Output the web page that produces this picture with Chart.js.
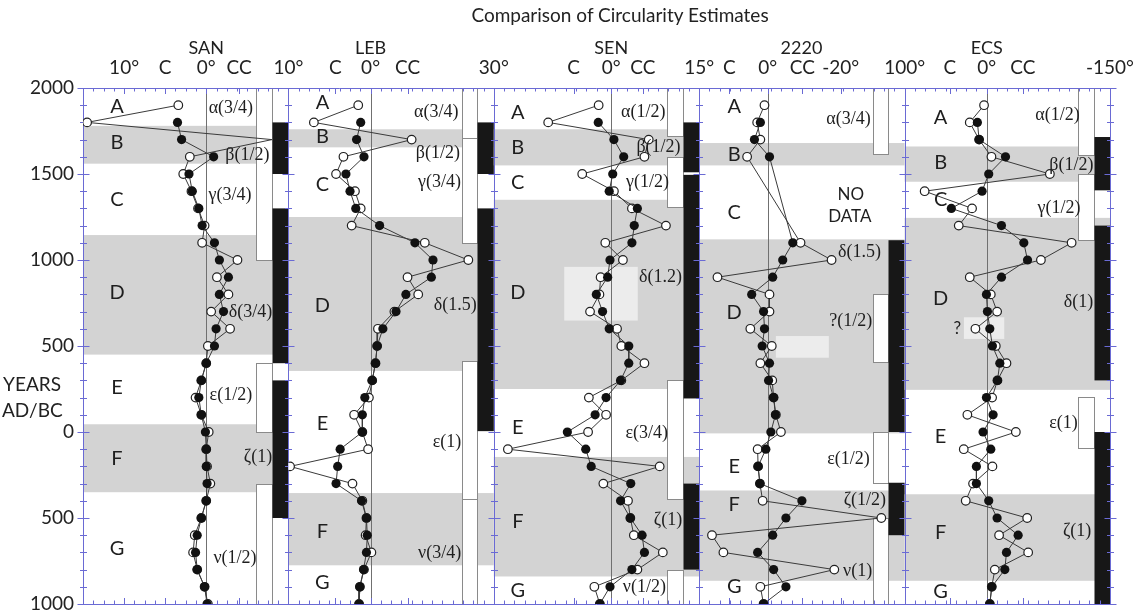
<!DOCTYPE html>
<html>
<head>
<meta charset="utf-8">
<script src="https://cdn.jsdelivr.net/npm/chart.js@4.4.1/dist/chart.umd.min.js"></script>
<style>
  html, body { margin: 0; padding: 0; background: #fff; overflow: hidden; }
  #wrap { position: relative; width: 1136px; height: 610px; }
  #chart { position: absolute; left: 0; top: 0; }
  .txt { position: absolute; font-family: Lato, "Liberation Sans", sans-serif; color: #222; white-space: nowrap; }
</style>
</head>
<body>
<div id="wrap">
  <canvas id="chart" width="1136" height="610" style="width:1136px;height:610px"></canvas>
  <div class="txt" style="left:620px;top:3px;transform:translateX(-50%);font-size:19px;">Comparison of Circularity Estimates</div>
  <div class="txt" style="left:2px;top:371px;width:60px;text-align:center;font-size:19px;line-height:26px;">YEARS<br>AD/BC</div>
</div>
<script>
// years of the samples (AD positive, BC negative)
const years = [1900, 1800, 1700, 1600, 1500, 1400, 1300, 1200, 1100, 1000, 900, 800, 700, 600, 500,
  400, 300, 200, 100, 0, -100, -200, -300, -400, -500, -600, -700, -800, -900, -1000];

// circularity estimates, degrees (positive = clockwise)
const sanOpen = [3.4, 14.5, -8.0, 2.0, 2.8, 1.8, 1.0, 0.2, 0.5, -3.8, -1.3, -2.7, -0.6, -2.9, -0.2,
  0.0, 0.6, 1.3, 0.6, -0.3, 0.0, -0.1, -0.5, 0.0, 0.6, 1.4, 1.6, 1.1, 0.2, -0.2];
const sanFilled = [null, 3.5, 3.0, -0.9, 2.1, 1.7, 0.9, 0.5, -1.0, -1.6, -2.7, -1.6, -2.1, -1.2, -1.0,
  0.0, 0.6, 0.9, 0.6, 0.1, 0.0, 0.0, -0.1, 0.0, 0.6, 1.1, 1.3, 1.1, 0.2, -0.1];
const lebOpen = [1.5, 6.9, -5.0, 3.3, 4.2, 1.9, 1.2, 2.3, -6.6, -11.9, -4.5, -5.8, -2.9, -0.9, -0.8,
  -0.6, -0.2, 0.2, 2.0, 1.0, 0.3, 9.8, 2.2, 1.0, 0.5, 0.6, -0.1, 0.8, 1.3, 1.4];
const lebFilled = [null, 1.2, 1.7, 0.8, 3.0, 2.5, 1.8, -1.1, -5.4, -7.6, -7.4, -4.3, -3.1, -1.5, -0.8,
  -0.6, -0.2, 0.7, 1.0, 1.0, 3.7, 4.0, 4.2, 1.1, 0.5, 0.4, 0.5, 0.85, 1.3, 1.4];
const senOpen = [3.2, 16.1, -9.6, -8.5, 7.4, -0.7, -5.3, -14.0, 1.5, -3.0, 2.7, 3.0, 5.4, -1.5, -2.6,
  -8.5, -2.6, 5.7, 1.3, 5.9, 26.4, -12.4, 2.0, -4.3, -4.9, -5.8, -13.2, -6.7, 4.3, 2.9];
const senFilled = [null, 3.3, -0.7, -3.2, -0.4, 0.5, -6.7, -5.9, -5.3, 0.3, 0.9, 3.8, 2.2, 0.5, -4.5,
  -4.5, -2.4, 1.3, 4.1, 11.2, 6.5, 5.1, -5.0, -2.4, -4.9, -7.9, -8.5, -5.3, 0.3, 2.9];
const t2220Open = [0.7, 2.3, 1.6, 4.5, null, null, null, null, -7.2, -14.0, 11.0, -0.4, -0.4, 3.8, -0.9,
  1.6, -1.0, -1.3, -1.8, -2.9, 2.2, 2.1, 1.7, 1.1, -24.9, 12.2, 9.7, -14.6, 1.6, 0.9];
const t2220Filled = [null, 1.6, 2.9, -0.4, null, null, null, null, -5.5, -3.3, -1.1, 3.5, 0.9, 0.7, 1.2,
  -0.4, -0.2, -1.3, -1.7, -0.7, 0.4, 2.1, 1.7, -7.5, -4.0, -1.1, 2.2, -1.3, -4.0, 0.9];
const ecsOpen = [3.3, 20.7, 9.3, -5.7, -76.8, 75.6, 17.9, 34.1, -103.3, -65.9, 20.7, -4.9, -12.6, 13.8, -11.0,
  -24.0, -13.0, -6.5, 23.6, -35.4, 28.0, -6.9, 16.7, 25.6, -49.2, -15.0, -50.4, -9.8, -6.1, -3.7];
const ecsFilled = [null, 11.4, 9.3, -22.8, -2.4, 5.7, 43.1, -17.9, -45.1, -49.6, -17.9, 0.4, -0.8, -3.7, -6.9,
  -15.9, -13.0, 0.4, -7.7, 4.5, -4.9, 12.6, 12.6, -2.4, -12.6, -38.2, -24.0, -22.0, -6.1, -3.7];

// samples that run off the scale (line only, no marker)
const sanOffScale = [1700];

// top axis ticks
const sanTickVals = [10, 5, 0, -4];
const sanTickText = ['10°', 'C', '0°', 'CC'];
const lebTickVals = [10, 4.3, 0, -4.5];
const lebTickText = ['10°', 'C', '0°', 'CC'];
const senTickVals = [30, 9.6, 0, -8.1];
const senTickText = ['30°', 'C', '0°', 'CC'];
const t2220TickVals = [15, 8.4, 0, -7.6, -16];
const t2220TickText = ['15°', 'C', '0°', 'CC', '-20°'];
const ecsTickVals = [100, 45, 0, -44, -150];
const ecsTickText = ['100°', 'C', '0°', 'CC', '-150°'];

// grey epoch bands [from year, to year]
const sanBands = [[1780, 1560], [1145, 450], [45, -350]];
const lebBands = [[1760, 1655], [1250, 355], [-355, -775]];
const senBands = [[1760, 1550], [1350, 250], [-145, -840]];
const t2220Bands = [[1680, 1550], [1120, -8], [-340, -865]];
const ecsBands = [[1660, 1455], [1245, 245], [-362, -865]];

// pale boxes [from year, to year, from deg, to deg]
const senShade = [[960, 648, 12.0, -6.8]];
const t2220Shade = [[558, 432, -1.8, -13.4]];
const ecsShade = [[667, 541, 27.8, -21.3]];

// open and black interval bars [from year, to year]
const sanWhite = [[2000, 1000], [400, 0], [-300, -1000]];
const sanBlack = [[1800, 1500], [1300, 400], [300, -500]];
const lebWhite = [[2000, 1710], [1710, 1100], [410, -390], [-390, -1000]];
const lebBlack = [[1800, 1500], [1300, 5]];
const senWhite = [[2000, 1720], [1600, 1310], [305, -390], [-800, -1000]];
const senBlack = [[1800, 1510], [1495, 195], [-300, -800]];
const t2220White = [[2000, 1615], [805, 405], [0, -295], [-500, -1000]];
const t2220Black = [[1115, 0], [-295, -600]];
const ecsWhite = [[2000, 1610], [1500, 1115], [205, -95]];
const ecsBlack = [[1715, 1405], [1200, 300], [0, -1000]];

// epoch letters and their years
const epochLetters = ['A', 'B', 'C', 'D', 'E', 'F', 'G'];
const sanLetterYears = [1890, 1680, 1349, 808, 256, -157, -680];
const lebLetterYears = [1913, 1715, 1436, 733, 52, -576, -878];
const senLetterYears = [1860, 1651, 1448, 808, 23, -523, -919];
const t2220LetterYears = [1895, 1616, 1273, 692, -203, -424, -901];
const ecsLetterYears = [1826, 1564, 1349, 773, -29, -587, -930];

// greek annotations: text, year, degree position
const sanGreek = ['α(3/4)', 'β(1/2)', 'γ(3/4)', 'δ(3/4)', 'ε(1/2)', 'ζ(1)', 'ν(1/2)'];
const sanGreekYears = [1884, 1610, 1378, 698, 215, -145, -733];
const sanGreekX = [-3.0, -5.0, -2.9, -5.4, -3.0, -6.3, -3.5];
const lebGreek = ['α(3/4)', 'β(1/2)', 'γ(3/4)', 'δ(1.5)', 'ε(1)', 'ν(3/4)'];
const lebGreekYears = [1860, 1622, 1453, 738, -58, -703];
const lebGreekX = [-8.0, -8.2, -8.4, -10.3, -9.3, -8.4];
const senGreek = ['α(1/2)', 'β(1/2)', 'γ(1/2)', 'δ(1.2)', 'ε(3/4)', 'ζ(1)', 'ν(1/2)'];
const senGreekYears = [1860, 1657, 1453, 901, -6, -512, -901];
const senGreekX = [-8.2, -12.1, -9.3, -12.6, -9.1, -14.5, -8.5];
const t2220Greek = ['α(3/4)', 'δ(1.5)', '?(1/2)', 'ε(1/2)', 'ζ(1/2)', 'ν(1)'];
const t2220GreekYears = [1820, 1047, 641, -159, -395, -812];
const t2220GreekX = [-17.7, -20.1, -18.2, -17.7, -21.3, -19.7];
const ecsGreek = ['α(1/2)', 'β(1/2)', 'γ(1/2)', 'δ(1)', 'ε(1)', 'ζ(1)'];
const ecsGreekYears = [1843, 1552, 1302, 756, 52, -576];
const ecsGreekX = [-86, -103, -88, -111.6, -93.3, -110];

// plain notes
const t2220Notes = ['NO', 'DATA'];
const t2220NoteYears = [1378, 1250];
const t2220NoteX = [-18.2, -18.0];
const ecsNotes = ['?'];
const ecsNoteYears = [599];
const ecsNoteX = [36];

const panels = [
  { key: 'SAN', axis: 'xSAN', min: -10, max: 15, headerX: 0, letterDx: 34,
    tickVals: sanTickVals, tickText: sanTickText, open: sanOpen, filled: sanFilled, offScale: sanOffScale,
    bands: sanBands, shade: [], white: sanWhite, black: sanBlack, letterYears: sanLetterYears,
    greek: sanGreek, greekYears: sanGreekYears, greekX: sanGreekX, notes: [], noteYears: [], noteX: [] },
  { key: 'LEB', axis: 'xLEB', min: -15, max: 10, headerX: 0, letterDx: 34,
    tickVals: lebTickVals, tickText: lebTickText, open: lebOpen, filled: lebFilled, offScale: [],
    bands: lebBands, shade: [], white: lebWhite, black: lebBlack, letterYears: lebLetterYears,
    greek: lebGreek, greekYears: lebGreekYears, greekX: lebGreekX, notes: [], noteYears: [], noteX: [] },
  { key: 'SEN', axis: 'xSEN', min: -22.5, max: 30, headerX: 0, letterDx: 24,
    tickVals: senTickVals, tickText: senTickText, open: senOpen, filled: senFilled, offScale: [],
    bands: senBands, shade: senShade, white: senWhite, black: senBlack, letterYears: senLetterYears,
    greek: senGreek, greekYears: senGreekYears, greekX: senGreekX, notes: [], noteYears: [], noteX: [] },
  { key: '2220', axis: 'x2220', min: -30, max: 15, headerX: -7.4, letterDx: 35,
    tickVals: t2220TickVals, tickText: t2220TickText, open: t2220Open, filled: t2220Filled, offScale: [],
    bands: t2220Bands, shade: t2220Shade, white: t2220White, black: t2220Black, letterYears: t2220LetterYears,
    greek: t2220Greek, greekYears: t2220GreekYears, greekX: t2220GreekX,
    notes: t2220Notes, noteYears: t2220NoteYears, noteX: t2220NoteX },
  { key: 'ECS', axis: 'xECS', min: -150, max: 100, headerX: 0, letterDx: 36,
    tickVals: ecsTickVals, tickText: ecsTickText, open: ecsOpen, filled: ecsFilled, offScale: [],
    bands: ecsBands, shade: ecsShade, white: ecsWhite, black: ecsBlack, letterYears: ecsLetterYears,
    greek: ecsGreek, greekYears: ecsGreekYears, greekX: ecsGreekX,
    notes: ecsNotes, noteYears: ecsNoteYears, noteX: ecsNoteX },
];

const axisBlue = '#6a6ad4';
const sansFont = 'Lato, "Liberation Sans", sans-serif';

function toPoints(vals) {
  return years.map((yr, i) => ({ x: vals[i], y: yr })).filter((pt) => pt.x !== null);
}

function strokeLine(ctx, x1, y1, x2, y2) {
  ctx.beginPath();
  ctx.moveTo(x1, y1);
  ctx.lineTo(x2, y2);
  ctx.stroke();
}

const crisp = (v) => Math.round(v) + 0.5;

const figurePlugin = {
  id: 'figure',
  beforeDatasetsDraw(chart) {
    const { ctx, chartArea: area, scales } = chart;
    const yS = scales.y;
    const yPx = (v) => yS.getPixelForValue(v);
    ctx.save();
    ctx.lineWidth = 1;

    panels.forEach((p) => {
      const xs = scales[p.axis];
      const left = xs.left, right = xs.right;

      ctx.fillStyle = '#d3d3d3';
      p.bands.forEach(([from, to]) => ctx.fillRect(left, yPx(from), right - left, yPx(to) - yPx(from)));

      ctx.fillStyle = '#ececec';
      p.shade.forEach(([from, to, a, b]) => {
        const xa = xs.getPixelForValue(a), xb = xs.getPixelForValue(b);
        ctx.fillRect(xa, yPx(from), xb - xa, yPx(to) - yPx(from));
      });

      const x0 = crisp(xs.getPixelForValue(0));
      ctx.strokeStyle = '#707070';
      strokeLine(ctx, x0, area.top, x0, area.bottom);

      const wl = crisp(right - 32), wr = crisp(right - 16.5);
      p.white.forEach(([from, to]) => {
        const y1 = crisp(yPx(from)), y2 = crisp(yPx(to));
        ctx.fillStyle = '#fff';
        ctx.fillRect(wl, y1, wr - wl, y2 - y1);
        ctx.strokeStyle = '#8a8a8a';
        ctx.strokeRect(wl, y1, wr - wl, y2 - y1);
      });
      ctx.fillStyle = '#171717';
      p.black.forEach(([from, to]) => ctx.fillRect(wr, yPx(from), right - wr, yPx(to) - yPx(from)));
    });

    // frame and tick marks
    ctx.strokeStyle = axisBlue;
    const edges = panels.map((p) => scales[p.axis].left);
    edges.push(scales[panels[panels.length - 1].axis].right);
    const top = crisp(area.top), bottom = crisp(area.bottom);
    strokeLine(ctx, area.left, top, area.right, top);
    strokeLine(ctx, area.left, bottom, area.right, bottom);
    edges.forEach((e) => {
      const x = crisp(e);
      strokeLine(ctx, x, area.top, x, area.bottom);
      for (let yr = -1000; yr <= 2000; yr += 100) {
        const len = yr % 500 === 0 ? 6 : 3.5;
        const y = crisp(yPx(yr));
        strokeLine(ctx, x - len, y, x + len, y);
      }
    });
    panels.forEach((p) => {
      const xs = scales[p.axis];
      for (let k = 1; k < 20; k++) {
        const x = crisp(xs.getPixelForValue(p.min + (p.max - p.min) * k / 20));
        strokeLine(ctx, x, area.top, x, area.top + 3.5);
        strokeLine(ctx, x, area.bottom - 3.5, x, area.bottom);
      }
      p.tickVals.forEach((v) => {
        if (v === p.min || v === p.max) return;
        const x = crisp(xs.getPixelForValue(v));
        strokeLine(ctx, x, area.top, x, area.top + 6);
        strokeLine(ctx, x, area.bottom - 6, x, area.bottom);
      });
    });
    ctx.restore();
  },
  afterDatasetsDraw(chart) {
    const { ctx, chartArea: area, scales } = chart;
    const yS = scales.y;
    ctx.save();
    ctx.fillStyle = '#1e1e1e';
    ctx.textAlign = 'center';
    ctx.textBaseline = 'middle';
    panels.forEach((p) => {
      const xs = scales[p.axis];
      ctx.font = '20px ' + sansFont;
      epochLetters.forEach((ch, i) => ctx.fillText(ch, xs.left + p.letterDx, yS.getPixelForValue(p.letterYears[i])));
      ctx.font = '18px "Liberation Serif", serif';
      p.greek.forEach((t, i) => ctx.fillText(t, xs.getPixelForValue(p.greekX[i]), yS.getPixelForValue(p.greekYears[i])));
      ctx.font = '17px ' + sansFont;
      p.notes.forEach((t, i) => ctx.fillText(t, xs.getPixelForValue(p.noteX[i]), yS.getPixelForValue(p.noteYears[i])));
      ctx.font = '18px ' + sansFont;
      ctx.fillText(p.key, xs.getPixelForValue(p.headerX), area.top - 40);
    });
    ctx.restore();
  },
};

// filled series first so its dots sit on top of the open circles
const datasets = [];
panels.forEach((p) => {
  datasets.push({
    label: p.key + ' filled',
    xAxisID: p.axis,
    yAxisID: 'y',
    data: toPoints(p.filled),
    showLine: true,
    borderColor: '#3a3a3a',
    borderWidth: 1,
    pointRadius: 4.6,
    pointBackgroundColor: '#111',
    pointBorderColor: '#111',
    pointBorderWidth: 0,
  });
  datasets.push({
    label: p.key + ' open',
    xAxisID: p.axis,
    yAxisID: 'y',
    data: toPoints(p.open),
    showLine: true,
    borderColor: '#3a3a3a',
    borderWidth: 1,
    pointRadius: (c) => (c.raw && p.offScale.includes(c.raw.y) ? 0 : 4.3),
    pointBackgroundColor: '#fff',
    pointBorderColor: '#222',
    pointBorderWidth: 1.2,
  });
});

const scales = {
  y: {
    type: 'linear',
    position: 'left',
    min: -1000,
    max: 2000,
    grid: { display: false, drawTicks: false },
    border: { display: false },
    ticks: {
      stepSize: 500,
      padding: 9,
      color: '#222',
      font: { family: sansFont, size: 19 },
      callback: (v) => String(Math.abs(v)),
    },
    afterFit: (s) => { s.width = 83; s.paddingTop = 0; s.paddingBottom = 0; },
  },
};
// top boxes are laid out last-first, so add the panel axes in reverse
panels.slice().reverse().forEach((p) => {
  scales[p.axis] = {
    type: 'linear',
    position: 'top',
    stack: 'panels',
    stackWeight: 1,
    reverse: true,
    min: p.min,
    max: p.max,
    grid: { display: false, drawTicks: false },
    border: { display: false },
    ticks: {
      autoSkip: false,
      maxRotation: 0,
      minRotation: 0,
      padding: 9,
      color: '#222',
      font: { family: sansFont, size: 19 },
      callback: (v, i) => p.tickText[i],
    },
    afterBuildTicks: (s) => { s.ticks = p.tickVals.map((v) => ({ value: v })); },
    afterFit: (s) => { s.height = 88; s.paddingLeft = 0; s.paddingRight = 0; },
  };
});

Chart.defaults.font.family = sansFont;

new Chart(document.getElementById('chart'), {
  type: 'scatter',
  data: { datasets },
  options: {
    responsive: false,
    devicePixelRatio: 1,
    animation: false,
    events: [],
    layout: { padding: { top: 0, left: 0, right: 26, bottom: 6 } },
    scales,
    plugins: { legend: { display: false }, tooltip: { enabled: false } },
  },
  plugins: [figurePlugin],
});
</script>
</body>
</html>
